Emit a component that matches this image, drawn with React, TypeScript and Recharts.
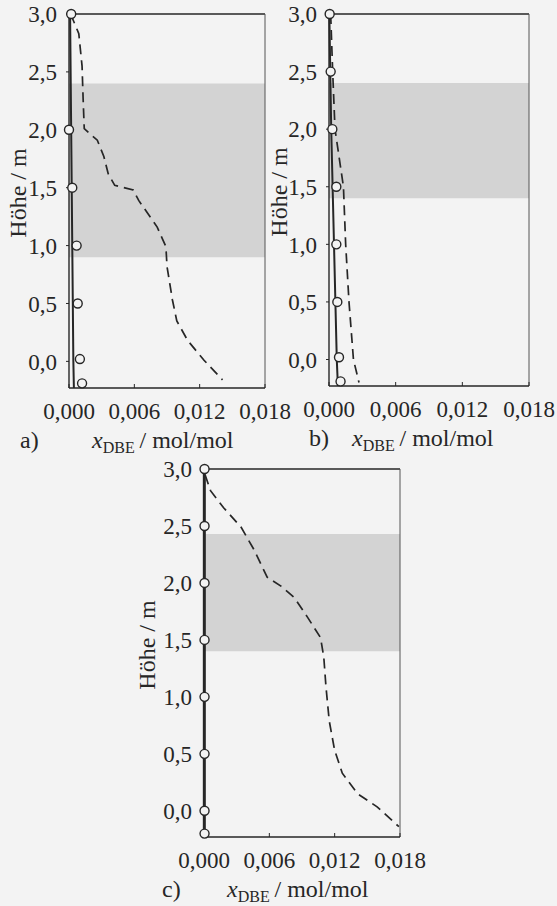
import React from "react";
import {
  ScatterChart,
  Scatter,
  XAxis,
  YAxis,
  ReferenceArea,
  ReferenceLine,
} from "recharts";

const H_TICKS = [0, 0.5, 1, 1.5, 2, 2.5, 3];
const X_TICKS = [0, 0.006, 0.012, 0.018];

// a)
const aMeasH = [3.0, 2.0, 1.5, 1.0, 0.5, 0.02, -0.19];
const aMeasX = [0.0002, 0.0, 0.0003, 0.0007, 0.0008, 0.001, 0.0012];
const aSolidH = [3.0, 2.0, 1.0, 0.0, -0.23];
const aSolidX = [0.0001, 0.0002, 0.0003, 0.0004, 0.00045];
const aDashH = [3.0, 2.83, 2.55, 2.26, 2.01, 1.91, 1.77, 1.62, 1.52, 1.48, 1.39, 1.16, 0.99, 0.82, 0.53, 0.35, 0.18, 0.01, -0.16];
const aDashX = [0.00015, 0.0009, 0.0012, 0.0013, 0.0014, 0.0026, 0.0032, 0.0036, 0.0042, 0.0059, 0.0064, 0.0081, 0.0089, 0.009, 0.0095, 0.0099, 0.0109, 0.0124, 0.0141];
const aBand = [0.9, 2.4];

// b)
const bMeasH = [3.0, 2.5, 2.0, 1.5, 1.0, 0.5, 0.02, -0.19];
const bMeasX = [0.00006, 0.00015, 0.0003, 0.00066, 0.00066, 0.00075, 0.0009, 0.00104];
const bSolidH = [3.0, 2.0, 1.0, 0.0, -0.23];
const bSolidX = [0.00003, 0.0002, 0.00045, 0.0007, 0.0008];
const bDashH = [3.0, 2.5, 2.0, 1.5, 1.0, 0.5, 0.0, -0.2];
const bDashX = [0.00015, 0.00033, 0.00054, 0.0013, 0.0015, 0.0018, 0.0022, 0.0027];
const bBand = [1.4, 2.4];

// c)
const cMeasH = [3.0, 2.5, 2.0, 1.5, 1.0, 0.5, 0.0, -0.2];
const cMeasX = [0.00005, 0.00005, 0.00005, 0.00005, 0.00005, 0.00005, 0.00005, 0.00005];
const cSolidH = [3.0, -0.23];
const cSolidX = [0.00003, 0.00003];
const cDashH = [2.95, 2.81, 2.66, 2.49, 2.29, 2.05, 1.97, 1.87, 1.7, 1.52, 1.35, 1.09, 0.79, 0.53, 0.33, 0.15, 0.035, -0.14];
const cDashX = [0.0001, 0.0006, 0.0018, 0.0034, 0.0046, 0.0058, 0.0071, 0.0083, 0.0095, 0.0107, 0.011, 0.0112, 0.0115, 0.012, 0.0127, 0.0141, 0.0159, 0.0179];
const cBand = [1.4, 2.43];

const FONT = "Liberation Serif, serif";
const INK = "#262626";
const BG = "#f3f3f3";

const pts = (xs: number[], hs: number[]) => xs.map((x, i) => ({ x, h: hs[i] }));
const fmtH = (v: number) => v.toFixed(1).replace(".", ",");
const fmtX = (v: number) => v.toFixed(3).replace(".", ",");

const Circle = (p: any) => (
  <circle cx={p.cx} cy={p.cy} r={4.5} fill={BG} stroke={INK} strokeWidth={1.4} />
);
const NoDot = () => <g />;

type PanelProps = {
  left: number;
  top: number;
  plotW: number;
  plotH: number;
  tag: string;
  tagDx: number;
  yLabDx: number;
  meas: { x: number; h: number }[];
  solid: { x: number; h: number }[];
  dash: { x: number; h: number }[];
  band: number[];
  solidWidth: number;
};

function Panel(p: PanelProps) {
  const ML = 72;
  const MT = 20;
  const MR = 30;
  const W = ML + p.plotW + MR;
  const H = MT + p.plotH + 70;
  const axisY = MT + p.plotH;
  const midY = MT + p.plotH / 2 - 8;
  const labX = ML - p.yLabDx;
  return (
    <div style={{ position: "absolute", left: p.left - ML, top: p.top - MT }}>
      <ScatterChart width={W} height={H} margin={{ top: MT, right: MR, bottom: 0, left: 0 }}>
        <ReferenceArea x1={0} x2={0.018} y1={p.band[0]} y2={p.band[1]} fill="#d3d3d3" fillOpacity={1} stroke="none" />
        <XAxis
          type="number"
          dataKey="x"
          domain={[0, 0.018]}
          ticks={X_TICKS}
          tickFormatter={fmtX}
          height={70}
          tickSize={-4}
          tickMargin={19}
          axisLine={{ stroke: INK, strokeWidth: 1.4 }}
          tickLine={{ stroke: INK }}
          tick={{ fontSize: 23, fill: INK, fontFamily: FONT }}
          interval={0}
        />
        <YAxis
          type="number"
          dataKey="h"
          domain={[-0.23, 3]}
          ticks={H_TICKS}
          tickFormatter={fmtH}
          width={ML}
          tickSize={3}
          tickMargin={9}
          axisLine={{ stroke: INK, strokeWidth: 1.4 }}
          tickLine={{ stroke: INK }}
          tick={{ fontSize: 23, fill: INK, fontFamily: FONT }}
          interval={0}
        />
        <ReferenceLine y={3} stroke={INK} strokeWidth={1.4} />
        <ReferenceLine x={0.018} stroke="#555" strokeWidth={1} />
        <Scatter
          data={p.dash}
          fill="none"
          shape={NoDot}
          line={{ stroke: INK, strokeWidth: 1.7, strokeDasharray: "10 6" }}
          lineType="joint"
          isAnimationActive={false}
        />
        <Scatter
          data={p.solid}
          fill="none"
          shape={NoDot}
          line={{ stroke: INK, strokeWidth: p.solidWidth }}
          lineType="joint"
          isAnimationActive={false}
        />
        <Scatter data={p.meas} shape={Circle} isAnimationActive={false} />
        <text
          x={labX}
          y={midY}
          transform={`rotate(-90, ${labX}, ${midY})`}
          textAnchor="middle"
          dominantBaseline="central"
          fontSize={24}
          fontFamily={FONT}
          fill={INK}
        >
          Höhe / m
        </text>
        <text x={ML + p.tagDx} y={axisY + 60} fontSize={24} fontFamily={FONT} fill={INK}>
          {p.tag}
        </text>
        <text x={ML + 23} y={axisY + 60} fontSize={24} fontFamily={FONT} fill={INK}>
          <tspan fontStyle="italic">x</tspan>
          <tspan fontSize={16} dy={5}>DBE</tspan>
          <tspan dy={-5}>{"\u2009/ mol/mol"}</tspan>
        </text>
      </ScatterChart>
    </div>
  );
}

export default function App() {
  return (
    <div
      style={{
        position: "absolute",
        left: 0,
        top: 0,
        width: 557,
        height: 906,
        background: BG,
        fontFamily: FONT,
        overflow: "hidden",
      }}
    >
      <Panel
        left={69}
        top={14}
        plotW={196}
        plotH={374}
        tag="a)"
        tagDx={-49}
        yLabDx={51}
        meas={pts(aMeasX, aMeasH)}
        solid={pts(aSolidX, aSolidH)}
        dash={pts(aDashX, aDashH)}
        band={aBand}
        solidWidth={2}
      />
      <Panel
        left={329}
        top={14}
        plotW={200}
        plotH={372}
        tag="b)"
        tagDx={-20}
        yLabDx={50}
        meas={pts(bMeasX, bMeasH)}
        solid={pts(bSolidX, bSolidH)}
        dash={pts(bDashX, bDashH)}
        band={bBand}
        solidWidth={2}
      />
      <Panel
        left={204}
        top={469}
        plotW={196}
        plotH={368}
        tag="c)"
        tagDx={-42}
        yLabDx={57}
        meas={pts(cMeasX, cMeasH)}
        solid={pts(cSolidX, cSolidH)}
        dash={pts(cDashX, cDashH)}
        band={cBand}
        solidWidth={3}
      />
    </div>
  );
}
